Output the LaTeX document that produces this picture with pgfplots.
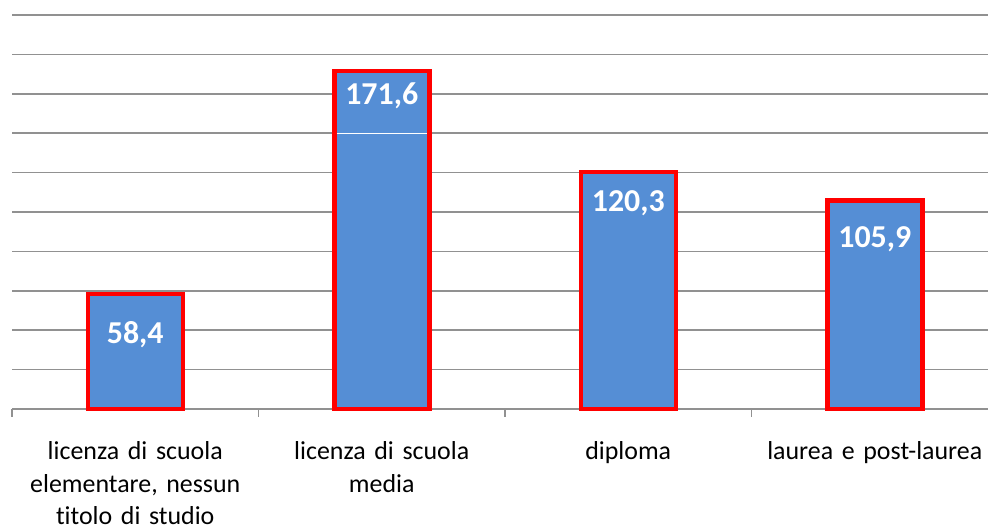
\documentclass[border=0pt]{standalone}
\usepackage{pgfplots}
\pgfplotsset{compat=1.18}
\usepackage{fontspec}
\setmainfont{Carlito}[Ligatures=NoCommon]
\definecolor{barblue}{RGB}{85,142,213}
\definecolor{gridgray}{RGB}{145,145,145}

\begin{document}
\begin{tikzpicture}[x=1bp,y=1bp]
\path[use as bounding box] (0,0) rectangle (988,529);
\begin{axis}[
    at={(12bp,120bp)}, anchor=south west,
    scale only axis, width=986bp, height=394bp,
    xmin=-0.5, xmax=3.5, ymin=0, ymax=200,
    axis lines*=left,
    y axis line style={draw=none},
    x axis line style={gridgray, line width=1.5bp, -},
    ytick={0,20,...,200}, yticklabels={}, major y tick style={draw=none},
    ymajorgrids=true, grid style={gridgray, line width=1.5bp},
    xtick={0,1,2,3},
    xticklabels={{licenza di scuola\\elementare, nessun\\titolo di studio},
                 {licenza di scuola\\media}, {diploma}, {laurea e post-laurea}},
    major x tick style={draw=none},
    minor xtick={-0.5,0.5,1.5,2.5,3.5},
    minor x tick style={gridgray, line width=1.5bp},
    minor tick length=8bp, tick align=outside,
    xticklabel style={font=\fontsize{26}{32.5}\selectfont, align=center,
                      text width=250bp, anchor=north, yshift=-25bp},
    point meta=explicit symbolic,
    every node near coord/.append style={font=\fontsize{32}{38}\selectfont\bfseries,
        text=white, anchor=north, inner sep=0pt},
    clip=false,
]
\addplot[ybar, bar width=95bp, fill=barblue, draw=red, line width=4.5bp] coordinates {
    (0,58.4) (1,171.6) (2,120.3) (3,105.9)
};
% thin white line inside the second bar, as in the original
\addplot[white, line width=1bp, mark=none] coordinates {(0.817,140) (1.183,140)};
% data labels, each at its own depth below the top of its bar
\addplot[draw=none, mark=none, nodes near coords,
    every node near coord/.append style={yshift=-27bp}] coordinates {(0,58.4) [58,4]};
\addplot[draw=none, mark=none, nodes near coords,
    every node near coord/.append style={yshift=-12bp}] coordinates {(1,171.6) [171,6]};
\addplot[draw=none, mark=none, nodes near coords,
    every node near coord/.append style={yshift=-18bp}] coordinates {(2,120.3) [120,3]};
\addplot[draw=none, mark=none, nodes near coords,
    every node near coord/.append style={yshift=-26bp}] coordinates {(3,105.9) [105,9]};
\end{axis}
\end{tikzpicture}
\end{document}
